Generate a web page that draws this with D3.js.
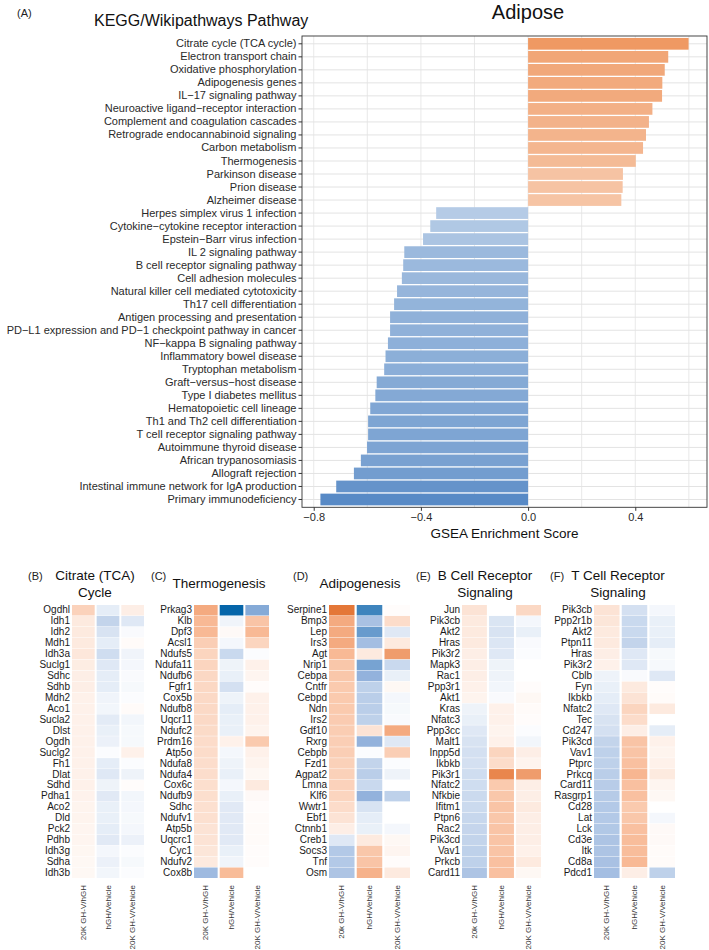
<!DOCTYPE html>
<html>
<head>
<meta charset="utf-8">
<script src="https://cdn.jsdelivr.net/npm/d3@7"></script>
<style>
body { margin: 0; background: #fff; }
svg { font-family: "Liberation Sans", Arial, sans-serif; }
</style>
</head>
<body>
<svg id="chart" width="709" height="950"></svg>
<script>
// Pathway enrichment (panel A)
const pathways = [
  "Citrate cycle (TCA cycle)", "Electron transport chain", "Oxidative phosphorylation",
  "Adipogenesis genes", "IL\u221217 signaling pathway", "Neuroactive ligand\u2212receptor interaction",
  "Complement and coagulation cascades", "Retrograde endocannabinoid signaling", "Carbon metabolism",
  "Thermogenesis", "Parkinson disease", "Prion disease", "Alzheimer disease",
  "Herpes simplex virus 1 infection", "Cytokine\u2212cytokine receptor interaction",
  "Epstein\u2212Barr virus infection", "IL 2 signaling pathway", "B cell receptor signaling pathway",
  "Cell adhesion molecules", "Natural killer cell mediated cytotoxicity", "Th17 cell differentiation",
  "Antigen processing and presentation", "PD\u2212L1 expression and PD\u22121 checkpoint pathway in cancer",
  "NF\u2212kappa B signaling pathway", "Inflammatory bowel disease", "Tryptophan metabolism",
  "Graft\u2212versus\u2212host disease", "Type I diabetes mellitus", "Hematopoietic cell lineage",
  "Th1 and Th2 cell differentiation", "T cell receptor signaling pathway", "Autoimmune thyroid disease",
  "African trypanosomiasis", "Allograft rejection", "Intestinal immune network for IgA production",
  "Primary immunodeficiency"
];
const scores = [
  0.599, 0.523, 0.51, 0.501, 0.50, 0.464, 0.451, 0.44, 0.429, 0.402, 0.354, 0.353, 0.348,
  -0.343, -0.365, -0.392, -0.462, -0.466, -0.471, -0.489, -0.50, -0.515, -0.515, -0.523,
  -0.532, -0.537, -0.565, -0.570, -0.589, -0.597, -0.597, -0.601, -0.624, -0.650, -0.716, -0.775
];
const xTicks = [-0.8, -0.4, 0, 0.4];

// Heatmap panels (B-F): columns are 20K GH-V/hGH, hGH/Vehicle, 20K GH-V/Vehicle
const tcaGenes = ["Ogdhl","Idh1","Idh2","Mdh1","Idh3a","Suclg1","Sdhc","Sdhb","Mdh2","Aco1","Sucla2","Dlst","Ogdh","Suclg2","Fh1","Dlat","Sdhd","Pdha1","Aco2","Dld","Pck2","Pdhb","Idh3g","Sdha","Idh3b"];
const tcaVals = [
  [0.32,-0.12,0.12],[0.15,-0.28,-0.15],[0.15,-0.18,-0.03],[0.15,-0.12,0.03],[0.17,-0.22,-0.07],
  [0.13,-0.15,-0.05],[0.12,-0.12,-0.03],[0.12,-0.12,-0.04],[0.1,-0.07,-0.02],[0.1,-0.06,0.03],
  [0.1,-0.13,-0.06],[0.1,-0.1,-0.04],[0.1,-0.09,-0.04],[0.1,-0.02,0.1],[0.1,-0.12,-0.02],
  [0.1,-0.15,-0.08],[0.1,-0.08,0.02],[0.09,-0.14,-0.06],[0.08,-0.1,-0.05],[0.08,-0.1,-0.04],
  [0.07,-0.12,-0.05],[0.07,-0.14,-0.09],[0.06,-0.05,-0.02],[0.05,-0.09,-0.04],[0.05,-0.06,-0.02]
];
const thermoGenes = ["Prkag3","Klb","Dpf3","Acsl1","Ndufs5","Ndufa11","Ndufb6","Fgfr1","Cox5b","Ndufb8","Uqcr11","Ndufc2","Prdm16","Atp5o","Ndufa8","Ndufa4","Cox6c","Ndufb9","Sdhc","Ndufv1","Atp5b","Uqcrc1","Cyc1","Ndufv2","Cox8b"];
const thermoVals = [
  [0.6,-1.0,-0.55],[0.5,-0.07,0.42],[0.5,0.04,0.5],[0.35,-0.05,0.3],[0.3,-0.25,-0.02],
  [0.3,-0.08,0.1],[0.28,-0.1,0.07],[0.28,-0.2,0.02],[0.27,-0.08,0.1],[0.27,-0.12,0.1],
  [0.27,-0.1,0.1],[0.26,-0.1,0.08],[0.25,0.1,0.38],[0.25,-0.05,0.1],[0.24,-0.08,0.08],
  [0.24,-0.1,0.05],[0.23,-0.05,0.15],[0.23,-0.1,0.04],[0.22,-0.14,0.02],[0.22,-0.14,0.03],
  [0.2,-0.14,0.03],[0.2,-0.14,0.03],[0.18,-0.1,0.02],[0.15,-0.07,0.02],[-0.45,0.48,0.0]
];
const adipoGenes = ["Serpine1","Bmp3","Lep","Irs3","Agt","Nrip1","Cebpa","Cntfr","Cebpd","Ndn","Irs2","Gdf10","Rxrg","Cebpb","Fzd1","Agpat2","Lmna","Klf6","Wwtr1","Ebf1","Ctnnb1","Creb1","Socs3","Tnf","Osm"];
const adipoVals = [
  [0.95,-0.8,0.02],[0.6,-0.4,0.25],[0.6,-0.65,-0.15],[0.6,-0.42,0.15],[0.5,0.15,0.7],
  [0.4,-0.6,-0.25],[0.4,-0.5,-0.1],[0.38,-0.3,0.05],[0.38,-0.32,-0.05],[0.38,-0.32,-0.04],
  [0.37,-0.3,-0.03],[0.36,0.2,0.6],[0.35,-0.5,-0.15],[0.35,-0.02,0.35],[0.33,-0.28,-0.02],
  [0.33,-0.32,-0.08],[0.32,-0.25,0.0],[0.3,-0.5,-0.3],[0.25,-0.18,0.0],[0.2,-0.12,0.0],
  [0.12,-0.1,-0.05],[-0.15,0.15,0.05],[-0.35,0.4,0.07],[-0.35,0.42,0.02],[-0.38,0.55,0.15]
];
const bcrGenes = ["Jun","Pik3cb","Akt2","Hras","Pik3r2","Mapk3","Rac1","Ppp3r1","Akt1","Kras","Nfatc3","Ppp3cc","Malt1","Inpp5d","Ikbkb","Pik3r1","Nfatc2","Nfkbie","Ifitm1","Ptpn6","Rac2","Pik3cd","Vav1","Prkcb","Card11"];
const bcrVals = [
  [0.2,0.0,0.28],[0.15,-0.17,-0.05],[0.15,-0.18,-0.1],[0.15,-0.16,-0.03],[0.12,-0.15,-0.02],
  [0.12,-0.08,0.0],[0.12,-0.08,0.0],[0.1,-0.06,0.02],[0.08,-0.03,0.05],[-0.08,0.1,0.03],
  [-0.1,0.1,0.02],[-0.15,0.08,-0.02],[-0.18,0.1,-0.06],[-0.2,0.3,0.12],[-0.2,0.25,0.08],
  [-0.22,0.85,0.7],[-0.22,0.38,0.12],[-0.24,0.4,0.12],[-0.24,0.42,0.15],[-0.26,0.4,0.12],
  [-0.27,0.42,0.12],[-0.28,0.42,0.12],[-0.3,0.42,0.1],[-0.3,0.45,0.15],[-0.38,0.45,0.05]
];
const tcrGenes = ["Pik3cb","Ppp2r1b","Akt2","Ptpn11","Hras","Pik3r2","Cblb","Fyn","Ikbkb","Nfatc2","Tec","Cd247","Pik3cd","Vav1","Ptprc","Prkcq","Card11","Rasgrp1","Cd28","Lat","Lck","Cd3e","Itk","Cd8a","Pdcd1"];
const tcrVals = [
  [0.2,-0.2,-0.05],[0.18,-0.25,-0.1],[0.15,-0.25,-0.1],[0.15,-0.28,-0.12],[0.12,-0.15,-0.04],
  [0.1,-0.15,-0.04],[-0.08,-0.03,-0.15],[-0.1,0.15,0.02],[-0.12,0.2,0.03],[-0.15,0.3,0.15],
  [-0.18,0.25,0.0],[-0.2,0.12,-0.12],[-0.28,0.42,0.1],[-0.3,0.42,0.08],[-0.3,0.45,0.1],
  [-0.32,0.52,0.15],[-0.33,0.45,0.07],[-0.34,0.45,0.05],[-0.35,0.38,0.0],[-0.35,0.4,-0.05],
  [-0.36,0.45,0.04],[-0.38,0.47,0.04],[-0.38,0.47,0.03],[-0.4,0.5,0.03],[-0.42,0.12,-0.3]
];
const colsUpper = ["20K GH-V/hGH", "hGH/Vehicle", "20K GH-V/Vehicle"];
const colsLower = ["20k GH-V/hGH", "hGH/Vehicle", "20K GH-V/Vehicle"];

const svg = d3.select("#chart");

// ---------- Panel A: bar chart ----------
const plot = { left: 302, right: 707, top: 36, bottom: 507.3 };

const ext = d3.extent(scores.concat([0]));
const pad = (ext[1] - ext[0]) * 0.05;
const x = d3.scaleLinear()
  .domain([ext[0] - pad, ext[1] + pad])
  .range([plot.left, plot.right]);

const y = d3.scaleBand()
  .domain(pathways)
  .range([plot.top, plot.bottom])
  .paddingInner(0.1)
  .paddingOuter(0.15);

const barColor = d3.scaleLinear()
  .domain([d3.min(scores), 0, d3.max(scores)])
  .range(["#588ac6", "#ffffff", "#ef9963"]);

svg.append("text").attr("x", 17).attr("y", 17)
  .style("font-size", "11px").attr("fill", "#222").text("(A)");
svg.append("text").attr("x", 94).attr("y", 26)
  .style("font-size", "16px").attr("fill", "#111").text("KEGG/Wikipathways Pathway");
svg.append("text").attr("x", 528).attr("y", 19).attr("text-anchor", "middle")
  .style("font-size", "20px").attr("fill", "#111").text("Adipose");

// grid
const grid = svg.append("g");
grid.selectAll("line.v")
  .data(d3.range(-0.8, 0.61, 0.2))
  .enter().append("line")
  .attr("x1", d => x(d)).attr("x2", d => x(d))
  .attr("y1", plot.top).attr("y2", plot.bottom)
  .attr("stroke", "#e3e3e3").attr("stroke-width", 0.8);
grid.selectAll("line.h")
  .data(pathways)
  .enter().append("line")
  .attr("x1", plot.left).attr("x2", plot.right)
  .attr("y1", d => y(d) + y.bandwidth() / 2).attr("y2", d => y(d) + y.bandwidth() / 2)
  .attr("stroke", "#e3e3e3").attr("stroke-width", 1);

svg.append("g").selectAll("rect")
  .data(pathways)
  .enter().append("rect")
  .attr("x", (d, i) => x(Math.min(0, scores[i])))
  .attr("y", d => y(d))
  .attr("width", (d, i) => Math.abs(x(scores[i]) - x(0)))
  .attr("height", y.bandwidth())
  .attr("fill", (d, i) => barColor(scores[i]));

svg.append("rect")
  .attr("x", plot.left).attr("y", plot.top)
  .attr("width", plot.right - plot.left).attr("height", plot.bottom - plot.top)
  .attr("fill", "none").attr("stroke", "#333").attr("stroke-width", 0.9);

const yAxis = svg.append("g")
  .attr("transform", `translate(${plot.left},0)`)
  .call(d3.axisLeft(y).tickSize(3.5).tickPadding(2));
yAxis.select(".domain").remove();
yAxis.selectAll("line").attr("stroke", "#333");
yAxis.selectAll("text").style("font-size", "11px").attr("fill", "#2a2a2a")
  .style("font-family", "'Liberation Sans', Arial, sans-serif");

const xAxis = svg.append("g")
  .attr("transform", `translate(0,${plot.bottom})`)
  .call(d3.axisBottom(x).tickValues(xTicks).tickFormat(d3.format(".1f")).tickSize(3.5).tickPadding(2));
xAxis.select(".domain").remove();
xAxis.selectAll("line").attr("stroke", "#333");
xAxis.selectAll("text").style("font-size", "11px").attr("fill", "#2a2a2a")
  .style("font-family", "'Liberation Sans', Arial, sans-serif");

svg.append("text")
  .attr("x", (plot.left + plot.right) / 2).attr("y", 538)
  .attr("text-anchor", "middle")
  .style("font-size", "13.5px").attr("fill", "#111")
  .text("GSEA Enrichment Score");

// ---------- Panels B-F: heatmaps ----------
const heatColor = d3.scaleLinear()
  .domain([-1, -0.5, 0, 0.5, 1])
  .range(["#0565a9", "#93b2dc", "#ffffff", "#f8b995", "#e2702e"]);

const panels = [
  { tag: "(B)", tagX: 28, title: ["Citrate (TCA)", "Cycle"], cx: 95, x0: 72, x1: 144, genes: tcaGenes, vals: tcaVals, cols: colsUpper },
  { tag: "(C)", tagX: 151, title: ["Thermogenesis"], cx: 219, x0: 194, x1: 269, genes: thermoGenes, vals: thermoVals, cols: colsUpper },
  { tag: "(D)", tagX: 293, title: ["Adipogenesis"], cx: 360, x0: 329, x1: 410, genes: adipoGenes, vals: adipoVals, cols: colsLower },
  { tag: "(E)", tagX: 416, title: ["B Cell Receptor", "Signaling"], cx: 485, x0: 462, x1: 541, genes: bcrGenes, vals: bcrVals, cols: colsLower },
  { tag: "(F)", tagX: 550, title: ["T Cell Receptor", "Signaling"], cx: 618, x0: 594, x1: 675, genes: tcrGenes, vals: tcrVals, cols: colsUpper }
];

const hmTop = 605, hmBottom = 878;

panels.forEach(p => {
  const g = svg.append("g");
  const xs = d3.scaleBand().domain(p.cols).range([p.x0, p.x1]).paddingInner(0.08);
  const ys = d3.scaleBand().domain(p.genes).range([hmTop, hmBottom]).paddingInner(0.04);

  g.append("text").attr("x", p.tagX).attr("y", 580)
    .style("font-size", "11px").attr("fill", "#222").text(p.tag);
  if (p.title.length === 2) {
    g.append("text").attr("x", p.cx).attr("y", 580).attr("text-anchor", "middle")
      .style("font-size", "13.5px").attr("fill", "#111").text(p.title[0]);
    g.append("text").attr("x", p.cx).attr("y", 597).attr("text-anchor", "middle")
      .style("font-size", "13.5px").attr("fill", "#111").text(p.title[1]);
  } else {
    g.append("text").attr("x", p.cx).attr("y", 588).attr("text-anchor", "middle")
      .style("font-size", "13.5px").attr("fill", "#111").text(p.title[0]);
  }

  p.genes.forEach((gene, i) => {
    g.selectAll(null)
      .data(p.vals[i])
      .enter().append("rect")
      .attr("x", (v, j) => xs(p.cols[j]))
      .attr("y", ys(gene))
      .attr("width", xs.bandwidth())
      .attr("height", ys.bandwidth())
      .attr("fill", v => heatColor(v));
  });

  const ya = g.append("g")
    .attr("transform", `translate(${p.x0},0)`)
    .call(d3.axisLeft(ys).tickSize(0).tickPadding(2));
  ya.select(".domain").remove();
  ya.selectAll("text").style("font-size", "10px").attr("fill", "#1a1a1a")
    .style("font-family", "'Liberation Sans', Arial, sans-serif");

  const xa = g.append("g")
    .attr("transform", `translate(0,${hmBottom})`)
    .call(d3.axisBottom(xs).tickSize(0).tickPadding(0));
  xa.select(".domain").remove();
  xa.selectAll("text")
    .attr("transform", "rotate(-90)")
    .attr("x", -7).attr("y", 0).attr("dy", "0.32em")
    .attr("text-anchor", "end")
    .style("font-size", "8px").attr("fill", "#333")
    .style("font-family", "'Liberation Sans', Arial, sans-serif");
});
</script>
</body>
</html>
